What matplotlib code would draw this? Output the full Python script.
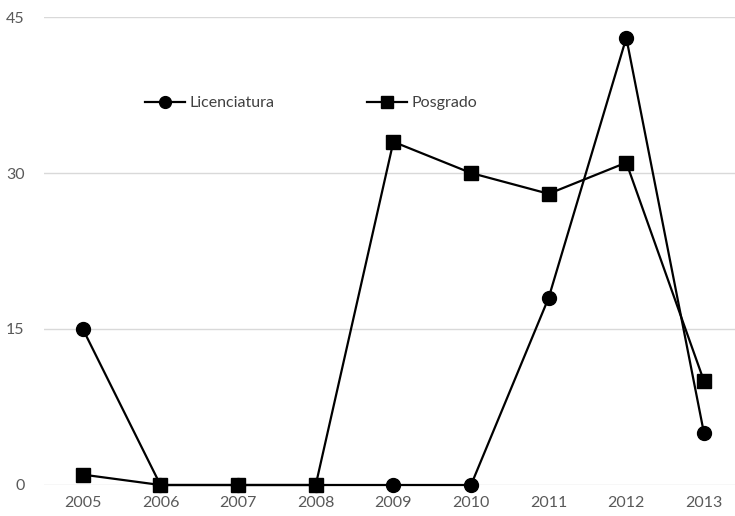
import matplotlib
matplotlib.use("Agg")
import matplotlib.pyplot as plt

years = ["2005", "2006", "2007", "2008", "2009", "2010", "2011", "2012", "2013"]
licenciatura = [15, 0, 0, 0, 0, 0, 18, 43, 5]
posgrado = [1, 0, 0, 0, 33, 30, 28, 31, 10]
yticks = [0, 15, 30, 45]

plt.rcParams['font.family'] = ['Lato', 'DejaVu Sans']

fig = plt.figure(figsize=(7.35, 5.16), dpi=100)
ax = fig.add_axes([44/735, 31/516, 1 - 44/735, (485-17)/516])
x = list(range(len(years)))
ax.plot(x, licenciatura, color='black', lw=1.6, marker='o', markersize=10, label='Licenciatura', zorder=3, clip_on=False)
ax.plot(x, posgrado, color='black', lw=1.6, marker='s', markersize=10, label='Posgrado', zorder=3, clip_on=False)

ax.set_xlim(-0.5, 8.4)
ax.set_ylim(0, 45)
ax.set_yticks(yticks)
ax.set_xticks(x)
ax.set_xticklabels(years)
ax.grid(axis='y', color='#d9d9d9', lw=1)
ax.set_axisbelow(True)
for s in ax.spines.values():
    s.set_visible(False)
ax.tick_params(length=0, labelsize=11.5, labelcolor='#595959', pad=8)
ax.tick_params(axis='y', pad=14)

leg = ax.legend(loc='center left', bbox_to_anchor=(0.125, 0.816), ncol=2, frameon=False,
                fontsize=11.5, handlelength=2.5, handletextpad=0.3, columnspacing=5.8,
                markerscale=0.85)
for t in leg.get_texts():
    t.set_color('#404040')

fig.savefig('out.png', dpi=100)
